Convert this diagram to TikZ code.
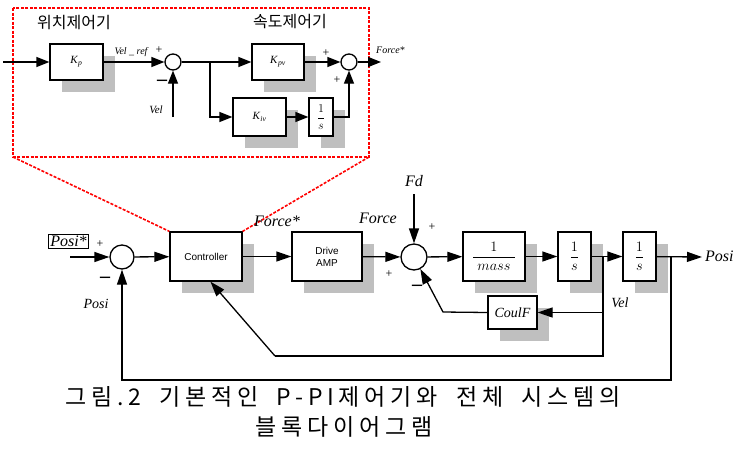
\documentclass[tikz,border=0pt]{standalone}
\usepackage{fontspec}
\setmainfont{Liberation Serif}
\newfontfamily\korfont{Noto Sans CJK KR}
\newfontfamily\korcap{Noto Sans CJK KR}[LetterSpace=21,WordSpace=1.8]
\newfontfamily\arialfont{Liberation Sans}
\usetikzlibrary{arrows.meta,shadows}

\begin{document}
\begin{tikzpicture}[x=1pt,y=-1pt]
        \tikzstyle{block}=[draw, line width=1.3pt, fill=white, inner sep=0pt,
            general shadow={fill=black!25, shadow xshift=12pt, shadow yshift=-12pt}]
        \tikzstyle{sumnode}=[draw, circle, line width=1.3pt, fill=white, inner sep=0pt]
        \tikzstyle{sig}=[line width=1.3pt, -{Triangle[length=15pt,width=10pt]}]
        \tikzstyle{isig}=[line width=1.3pt, -{Triangle[length=13pt,width=10pt]}]
        \tikzstyle{wire}=[line width=1.3pt]
        \tikzstyle{lbl}=[inner sep=0pt, font=\fontsize{10}{11}\selectfont\itshape]
        \tikzstyle{midlbl}=[inner sep=0pt, font=\fontsize{14}{15}\selectfont\itshape]
        \tikzstyle{biglbl}=[inner sep=0pt, font=\fontsize{16}{17}\selectfont\itshape]
        \tikzstyle{sgn}=[inner sep=0pt, font=\fontsize{12}{12}\selectfont]
        \tikzstyle{neg}=[inner sep=0pt, font=\fontsize{20}{20}\selectfont\bfseries]
        \tikzstyle{zoomline}=[red, line width=1.6pt, dash pattern=on 3pt off 1.5pt]
        \useasboundingbox (0,0) rectangle (734,448);

        % zoomed controller
        \coordinate (ztl) at (13,8);
        \coordinate (zbr) at (369,157);
        \coordinate (zbl) at (13,157);
        \draw[zoomline] (ztl) rectangle (zbr);
        \node[font=\korfont\fontsize{16}{17}\selectfont] (ptitle) at (74,23) {위치제어기};
        \node[font=\korfont\fontsize{16}{17}\selectfont] (vtitle) at (290,22) {속도제어기};

        \coordinate (inp) at (3,62);
        \node[block, minimum width=53pt, minimum height=36pt,
            font=\fontsize{11}{12}\selectfont] (kp) at (76.5,62)
            {\textit{K}\textsubscript{\textit{p}}};
        \node[sumnode, minimum size=16pt] (s1) at (173,62) {};
        \node[block, minimum width=52pt, minimum height=36pt,
            font=\fontsize{11}{12}\selectfont] (kpv) at (278,62)
            {\textit{K}\textsubscript{\textit{pv}}};
        \node[block, minimum width=53pt, minimum height=38pt,
            font=\fontsize{11}{12}\selectfont] (kiv) at (259.5,117)
            {\textit{K}\textsubscript{\textit{iv}}};
        \node[block, minimum width=24pt, minimum height=38pt,
            font=\fontsize{12}{13}\selectfont] (iint) at (321,117)
            {$\displaystyle\frac{1}{s}$};
        \node[sumnode, minimum size=16pt] (s2) at (349,62) {};
        \coordinate (velin) at (173,117);
        \coordinate (br1) at (210,62);
        \coordinate (fout) at (381,62);

        \draw[isig] (inp) -- (kp);
        \draw[isig] (kp) -- (s1);
        \draw[isig] (velin) -- (s1);
        \draw[isig] (s1) -- (kpv);
        \draw[isig] (br1) |- (kiv);
        \draw[isig] (kiv) -- (iint);
        \draw[isig] (iint.east) -| (s2);
        \draw[isig] (kpv) -- (s2);
        \draw[isig] (s2) -- (fout);

        \node[lbl] (velref) at (131,52) {Vel \_ ref};
        \node[sgn] (p1) at (159,50) {+};
        \node[neg] (m1) at (162,83) {–};
        \node[lbl, font=\fontsize{11}{12}\selectfont\itshape] (vel1) at (156,110) {Vel};
        \node[sgn] (p2) at (326,53) {+};
        \node[sgn] (p3) at (337,80) {+};
        \node[lbl, anchor=west] (fstar1) at (376,50) {Force*};

        % whole system
        \node[draw, line width=0.7pt, inner sep=1.5pt,
            font=\fontsize{16}{17}\selectfont\itshape] (posiref) at (68.5,241.5) {Posi*};
        \coordinate (pin) at (70,257);
        \node[sumnode, minimum size=24pt] (s3) at (122,257) {};
        \node[block, minimum width=72pt, minimum height=49pt,
            font=\arialfont\fontsize{10}{12}\selectfont] (ctrl) at (206,256.5) {Controller};
        \node[block, minimum width=70pt, minimum height=49pt, align=center,
            font=\arialfont\fontsize{10}{12}\selectfont] (amp) at (327,256.5) {Drive\\AMP};
        \node[sumnode, minimum size=26pt] (s4) at (414,257) {};
        \node[block, minimum width=62pt, minimum height=49pt,
            font=\fontsize{14}{16}\selectfont] (mass) at (494,256.5)
            {$\displaystyle\frac{1}{\;mass\;}$};
        \node[block, minimum width=33pt, minimum height=49pt,
            font=\fontsize{14}{16}\selectfont] (int1) at (574.5,256.5)
            {$\displaystyle\frac{1}{s}$};
        \node[block, minimum width=33pt, minimum height=49pt,
            font=\fontsize{14}{16}\selectfont] (int2) at (639.5,256.5)
            {$\displaystyle\frac{1}{s}$};
        \node[block, minimum width=49pt, minimum height=33pt,
            font=\fontsize{14}{15}\selectfont\itshape] (coulf) at (512.5,312.5) {CoulF};

        \draw[zoomline] (zbl) -- (ctrl.north west);
        \draw[zoomline] (zbr) -- (ctrl.north east);

        \coordinate (fdin) at (414,194);
        \coordinate (vbr) at (603,257);
        \coordinate (vlow) at (603,356);
        \coordinate (vleft) at (275,356);
        \coordinate (pbr) at (671,257);
        \coordinate (plow) at (671,380);
        \coordinate (pout) at (702,257);
        \coordinate (cbend) at (443,312);

        \draw[sig] (pin) -- (s3);
        \draw[sig] (s3) -- (ctrl);
        \draw[sig] (ctrl) -- (amp);
        \draw[sig] (amp) -- (s4);
        \draw[sig] (fdin) -- (s4);
        \draw[sig] (s4) -- (mass);
        \draw[sig] (mass) -- (int1);
        \draw[sig] (int1) -- (int2);
        \draw[sig] (int2) -- (pout);
        \draw[sig] (vbr) |- (coulf);
        \draw[wire] (vbr) -- (vlow) -- (vleft);
        \draw[sig] (vleft) -- (ctrl.280);
        \draw[sig] (coulf.west) -- (cbend) -- (s4);
        \draw[sig] (pbr) -- (plow) -| (s3);

        \node[sgn] (p4) at (100,244) {+};
        \node[neg] (m4) at (105,280) {–};
        \node[midlbl] (posifb) at (96,304) {Posi};
        \node[biglbl] (fstar) at (277,221) {Force*};
        \node[biglbl] (force) at (378,218) {Force};
        \node[biglbl] (fd) at (414,181) {Fd};
        \node[sgn] (p5) at (432,227) {+};
        \node[sgn] (p6) at (389,274) {+};
        \node[neg] (m6) at (417,288) {–};
        \node[midlbl] (vel2) at (620,303) {Vel};
        \node[biglbl, anchor=west] (posiout) at (705,256) {Posi};

        % caption
        \node[font=\korcap\fontsize{23}{25}\selectfont] (cap1) at (343,397)
            {그림.2 기본적인 P-PI제어기와 전체 시스템의};
        \node[font=\korcap\fontsize{23}{25}\selectfont] (cap2) at (344,427)
            {블록다이어그램};
    \end{tikzpicture}
\end{document}
